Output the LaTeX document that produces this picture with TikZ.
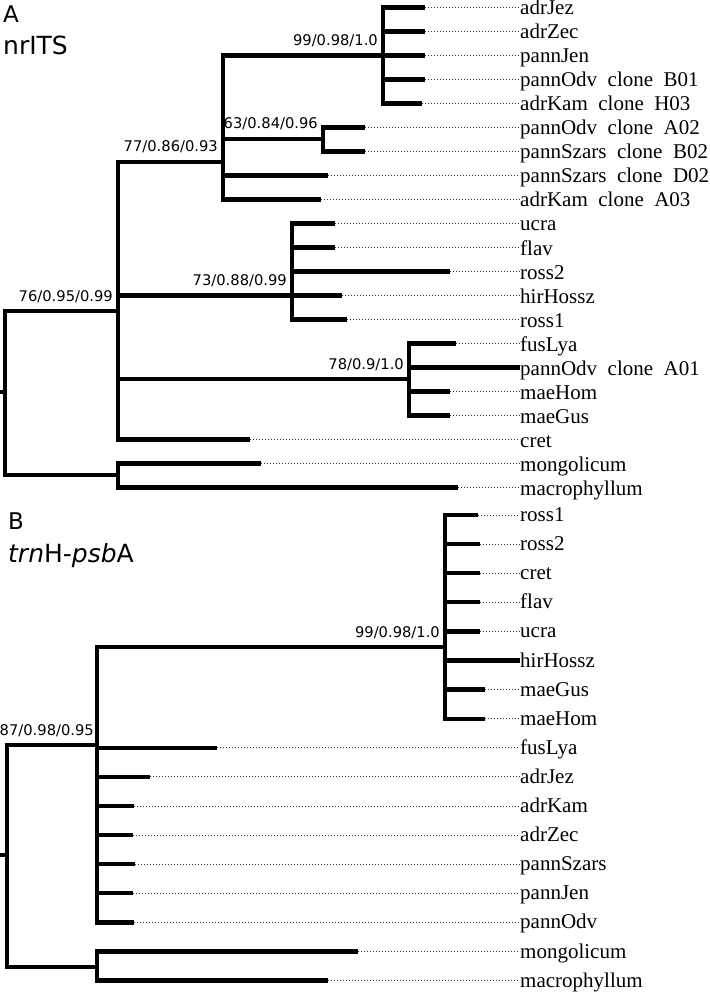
\documentclass[tikz,border=0pt]{standalone}
\usepackage{fontspec}
\setmainfont{Liberation Serif}
\newfontfamily\supfont{DejaVu Sans}
\newcommand{\twosp}{\hspace{0.5em}}
\begin{document}
\begin{tikzpicture}[x=1pt,y=-1pt,
  br/.style={line width=4.3pt, line join=miter},
  guide/.style={line width=0.9pt, black!80, dash pattern=on 1pt off 2pt},
  taxon/.style={anchor=base west, inner sep=0pt, yshift=-7.5pt, font=\fontsize{21}{21}\selectfont},
  taxonB/.style={anchor=base west, inner sep=0pt, yshift=-6.5pt, font=\fontsize{21}{21}\selectfont},
  sup/.style={anchor=base east, inner sep=0pt, xshift=-5pt, yshift=10pt, font=\supfont\fontsize{14.7}{15}\selectfont},
  ttl/.style={anchor=base west, inner sep=0pt, font=\supfont\fontsize{23}{23}\selectfont},
  sttl/.style={anchor=base west, inner sep=0pt, font=\supfont\fontsize{25}{25}\selectfont}]
\useasboundingbox (0,0) rectangle (709,992);

% ---------------- Panel A ----------------
\node[ttl] (titleA) at (3,23) {A};
\node[sttl] (subA) at (3,55) {nrITS};

\foreach \i/\tx/\name in {0/425/adrJez, 1/425/adrZec, 2/425/pannJen,
  3/425/pannOdv\twosp clone\twosp B01, 4/422/adrKam\twosp clone\twosp H03,
  5/365/pannOdv\twosp clone\twosp A02, 6/365/pannSzars\twosp clone\twosp B02,
  7/328/pannSzars\twosp clone\twosp D02, 8/321/adrKam\twosp clone\twosp A03,
  9/335/ucra, 10/335/flav, 11/450/ross2, 12/342/hirHossz, 13/347/ross1,
  14/456/fusLya, 15/520/pannOdv\twosp clone\twosp A01, 16/450/maeHom,
  17/450/maeGus, 18/250/cret, 19/261/mongolicum, 20/458/macrophyllum} {
  \coordinate (tA\i) at (\tx, {7.5+24*\i});
  \node[taxon] (LA\i) at (520, {7.5+24*\i}) {\name};
  \draw[guide] (tA\i) -- (tA\i -| LA\i.west);
}

\coordinate (rootA0) at (0,392);
\coordinate (rootA) at (5,392);
\coordinate (n76) at (118,311);
\coordinate (outA) at (118,475);
\coordinate (n77) at (223,162);
\coordinate (n99A) at (383,55.5);
\coordinate (n63) at (323,139);
\coordinate (n73) at (292,295.5);
\coordinate (n78) at (409,379);

\draw[br] (rootA0) -- (rootA);
\draw[br] (rootA) |- (n76);
\draw[br] (rootA) |- (outA);
\draw[br] (n76) |- (n77);
\draw[br] (n76) |- (n73);
\draw[br] (n76) |- (n78);
\draw[br] (n76) |- (tA18);
\draw[br] (outA) |- (tA19);
\draw[br] (outA) |- (tA20);
\draw[br] (n77) |- (n99A);
\draw[br] (n77) |- (n63);
\draw[br] (n77) |- (tA7);
\draw[br] (n77) |- (tA8);
\foreach \i in {0,...,4} {\draw[br] (n99A) |- (tA\i);}
\foreach \i in {5,6} {\draw[br] (n63) |- (tA\i);}
\foreach \i in {9,...,13} {\draw[br] (n73) |- (tA\i);}
\foreach \i in {14,...,17} {\draw[br] (n78) |- (tA\i);}

\node[sup] (s76) at (n76) {76/0.95/0.99};
\node[sup] (s77) at (n77) {77/0.86/0.93};
\node[sup] (s63) at (n63) {63/0.84/0.96};
\node[sup] (s99A) at (n99A) {99/0.98/1.0};
\node[sup] (s73) at (n73) {73/0.88/0.99};
\node[sup] (s78) at (n78) {78/0.9/1.0};

% ---------------- Panel B ----------------
\node[ttl] (titleB) at (8,529) {B};
\node[sttl] (subB) at (8,562) {\textit{trn}H-\textit{psb}A};

\foreach \i/\tx/\name in {0/478/ross1, 1/480/ross2, 2/480/cret, 3/480/flav,
  4/480/ucra, 5/520/hirHossz, 6/485/maeGus, 7/485/maeHom, 8/217/fusLya,
  9/150/adrJez, 10/134/adrKam, 11/133/adrZec, 12/135/pannSzars,
  13/133/pannJen, 14/134/pannOdv, 15/358/mongolicum, 16/328/macrophyllum} {
  \coordinate (tB\i) at (\tx, {515+29.1*\i});
  \node[taxonB] (LB\i) at (520, {515+29.1*\i}) {\name};
  \draw[guide] (tB\i) -- (tB\i -| LB\i.west);
}

\coordinate (rootB0) at (0,855);
\coordinate (rootB) at (7,855);
\coordinate (n87) at (97,745);
\coordinate (outB) at (97,967);
\coordinate (n99B) at (445,647);

\draw[br] (rootB0) -- (rootB);
\draw[br] (rootB) |- (n87);
\draw[br] (rootB) |- (outB);
\draw[br] (n87) |- (n99B);
\foreach \i in {8,...,14} {\draw[br] (n87) |- (tB\i);}
\foreach \i in {0,...,7} {\draw[br] (n99B) |- (tB\i);}
\draw[br] (outB) |- (tB15);
\draw[br] (outB) |- (tB16);

\node[sup, xshift=2pt] (s87) at (n87) {87/0.98/0.95};
\node[sup] (s99B) at (n99B) {99/0.98/1.0};
\end{tikzpicture}
\end{document}
